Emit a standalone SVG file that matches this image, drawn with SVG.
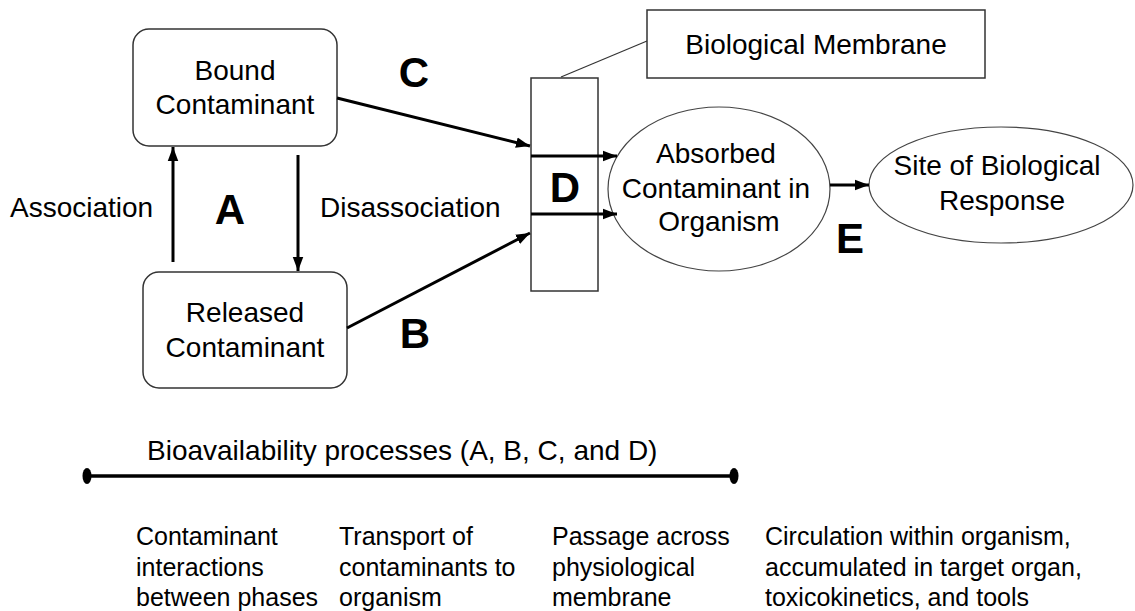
<svg xmlns="http://www.w3.org/2000/svg" width="1135" height="611" viewBox="0 0 1135 611">
<style>
text{font-family:"Liberation Sans",Arial,sans-serif;fill:#000}
.t{font-size:28px}
.b{font-size:42px;font-weight:bold}
.s{font-size:25px}
.box{fill:#fff;stroke:#333;stroke-width:1.5}
.ell{fill:#fff;stroke:#444;stroke-width:1.2}
.arr{stroke:#000;stroke-width:3;fill:none;marker-end:url(#ah)}
</style>
<defs>
<marker id="ah" markerUnits="userSpaceOnUse" markerWidth="14" markerHeight="12" refX="12" refY="5" orient="auto" viewBox="0 0 12 10">
<path d="M0,0.5 L12,5 L0,9.5 z" fill="#000"/>
</marker>
</defs>
<rect width="1135" height="611" fill="#fff"/>
<g id="bound">
<rect class="box" x="133" y="29" width="204" height="117" rx="16"/>
<text class="t" x="235" y="80" text-anchor="middle">Bound</text>
<text class="t" x="235" y="114" text-anchor="middle">Contaminant</text>
</g>
<g id="released">
<rect class="box" x="143" y="272" width="204" height="116" rx="16"/>
<text class="t" x="245" y="322" text-anchor="middle">Released</text>
<text class="t" x="245" y="357" text-anchor="middle">Contaminant</text>
</g>
<g id="membrane">
<rect class="box" x="531" y="78" width="67" height="213"/>
<text class="b" x="565" y="202" text-anchor="middle">D</text>
</g>
<g id="membrane-label">
<line x1="561" y1="77" x2="647" y2="41" stroke="#333" stroke-width="1.2"/>
<rect class="box" x="647" y="10" width="338" height="68"/>
<text class="t" x="816" y="54" text-anchor="middle">Biological Membrane</text>
</g>
<g id="absorbed">
<ellipse class="ell" cx="719" cy="189" rx="111" ry="82"/>
<text class="t" x="716" y="163" text-anchor="middle">Absorbed</text>
<text class="t" x="716" y="198" text-anchor="middle">Contaminant in</text>
<text class="t" x="719" y="231" text-anchor="middle">Organism</text>
</g>
<g id="site">
<ellipse class="ell" cx="1001" cy="185" rx="132" ry="58"/>
<text class="t" x="997" y="175" text-anchor="middle">Site of Biological</text>
<text class="t" x="1002" y="210" text-anchor="middle">Response</text>
</g>
<g id="connectors">
<line class="arr" x1="173" y1="262" x2="173" y2="147"/>
<line class="arr" x1="298" y1="155" x2="298" y2="271"/>
<line class="arr" x1="337" y1="98" x2="530" y2="146"/>
<line class="arr" x1="347" y1="328" x2="530" y2="233"/>
<line class="arr" x1="531" y1="156" x2="617" y2="156"/>
<line class="arr" x1="531" y1="214" x2="617" y2="214"/>
<line class="arr" x1="830" y1="185" x2="869" y2="185"/>
</g>
<g id="labels">
<text class="t" x="10" y="217">Association</text>
<text class="b" x="230" y="224" text-anchor="middle">A</text>
<text class="t" x="320" y="217">Disassociation</text>
<text class="b" x="414" y="87" text-anchor="middle">C</text>
<text class="b" x="415" y="348" text-anchor="middle">B</text>
<text class="b" x="850" y="253" text-anchor="middle">E</text>
</g>
<g id="timeline">
<text class="t" x="147" y="460">Bioavailability  processes (A, B, C, and D)</text>
<line x1="87" y1="476" x2="734" y2="476" stroke="#000" stroke-width="3.5"/>
<ellipse cx="87" cy="476" rx="4.5" ry="8" fill="#000"/>
<ellipse cx="734" cy="476" rx="4.5" ry="8" fill="#000"/>
</g>
<g id="descriptions">
<text class="s" x="136" y="545">Contaminant</text>
<text class="s" x="136" y="576">interactions</text>
<text class="s" x="136" y="606">between phases</text>
<text class="s" x="339" y="545">Transport of</text>
<text class="s" x="339" y="576">contaminants to</text>
<text class="s" x="339" y="606">organism</text>
<text class="s" x="552" y="545">Passage across</text>
<text class="s" x="552" y="576">physiological</text>
<text class="s" x="552" y="606">membrane</text>
<text class="s" x="765" y="545">Circulation within organism,</text>
<text class="s" x="765" y="576">accumulated in target organ,</text>
<text class="s" x="765" y="606">toxicokinetics, and tools</text>
</g>
</svg>
